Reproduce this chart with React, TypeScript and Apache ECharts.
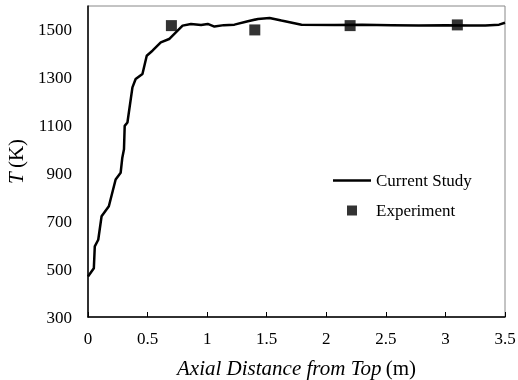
import React, { useEffect, useRef } from "react";
import * as echarts from "echarts";

const simX = [0, 0.049, 0.057, 0.086, 0.114, 0.175, 0.232, 0.274, 0.288, 0.302, 0.308, 0.331, 0.373, 0.4, 0.457, 0.493, 0.541, 0.611, 0.681, 0.752, 0.794, 0.864, 0.949, 1.005, 1.061, 1.14, 1.229, 1.342, 1.427, 1.524, 1.623, 1.792, 2.07, 2.3, 2.55, 2.776, 3.0, 3.2, 3.335, 3.45, 3.5];
const simT = [469, 504, 595, 623, 721, 763, 875, 903, 966, 1001, 1099, 1113, 1260, 1295, 1316, 1392, 1413, 1448, 1462, 1497, 1518, 1525, 1521, 1525, 1514, 1520, 1522, 1536, 1546, 1550, 1539, 1522, 1521, 1522, 1520, 1518, 1520, 1519, 1518, 1522, 1530];
const expX = [0.7, 1.4, 2.2, 3.1];
const expT = [1518, 1500, 1518, 1521];
const seriesNames = ["Current Study", "Experiment"];

export default function App() {
  const ref = useRef<HTMLDivElement>(null);
  useEffect(() => {
    const chart = echarts.init(ref.current!, null, { renderer: "svg" });
    const font = "Liberation Serif";
    chart.setOption({
      animation: false,
      textStyle: { fontFamily: font, color: "#000", fontSize: 17 },
      grid: {
        left: 88,
        right: 13,
        top: 6,
        bottom: 63,
        containLabel: false,
        outerBoundsMode: "none",
        show: true,
        borderColor: "#888",
        borderWidth: 1,
      },
      legend: {
        orient: "vertical",
        left: 333,
        top: 172,
        padding: 0,
        itemWidth: 38,
        itemHeight: 10,
        itemGap: 13,
        symbolKeepAspect: true,
        textStyle: { fontFamily: font, fontSize: 17, color: "#000" },
        data: [
          { name: seriesNames[0], icon: "path://M0,0L38,0L38,2.5L0,2.5Z", itemStyle: { color: "#000" } },
          { name: seriesNames[1], icon: "path://M0,0L10,0L10,10L0,10Z", itemStyle: { color: "#000" } },
        ],
      },
      xAxis: {
        type: "value",
        min: 0,
        max: 3.5,
        interval: 0.5,
        splitLine: { show: false },
        axisLine: { lineStyle: { color: "#000", width: 1.5 } },
        axisTick: { inside: true, length: 5, lineStyle: { color: "#000" } },
        axisLabel: {
          show: true,
          fontSize: 17,
          fontFamily: font,
          color: "#000000",
          margin: 13,
          formatter: (v: number) => String(v),
        },
        name: "{i|Axial Distance from Top} {n|(m)}",
        nameLocation: "middle",
        nameGap: 40,
        nameTextStyle: {
          rich: {
            i: { fontStyle: "italic", fontSize: 21, lineHeight: 22, fontFamily: font, color: "#000" },
            n: { fontSize: 21, lineHeight: 22, fontFamily: font, color: "#000" },
          },
        },
      },
      yAxis: {
        type: "value",
        min: 300,
        max: 1600,
        interval: 200,
        splitLine: { show: false },
        axisLine: { lineStyle: { color: "#000", width: 1.5 } },
        axisTick: { show: false },
        axisLabel: {
          show: true,
          fontSize: 17,
          fontFamily: font,
          color: "#000000",
          margin: 16,
          showMaxLabel: false,
          formatter: (v: number) => String(v),
        },
        name: "{i|T} {n|(K)}",
        nameLocation: "middle",
        nameGap: 61,
        nameRotate: 90,
        nameTextStyle: {
          rich: {
            i: { fontStyle: "italic", fontSize: 21, lineHeight: 22, fontFamily: font, color: "#000" },
            n: { fontSize: 21, lineHeight: 22, fontFamily: font, color: "#000" },
          },
        },
      },
      series: [
        {
          name: seriesNames[0],
          type: "line",
          data: simX.map((x, i) => [x, simT[i]]),
          symbol: "none",
          lineStyle: { color: "#000", width: 2.5 },
          itemStyle: { color: "#000" },
        },
        {
          name: seriesNames[1],
          type: "scatter",
          data: expX.map((x, i) => [x, expT[i]]),
          symbol: "rect",
          symbolSize: 11,
          itemStyle: { color: "#000" },
          z: 3,
        },
      ],
    });
    return () => chart.dispose();
  }, []);
  return (
    <div
      ref={ref}
      style={{ position: "fixed", left: 0, top: 0, width: 518, height: 380 }}
    />
  );
}
